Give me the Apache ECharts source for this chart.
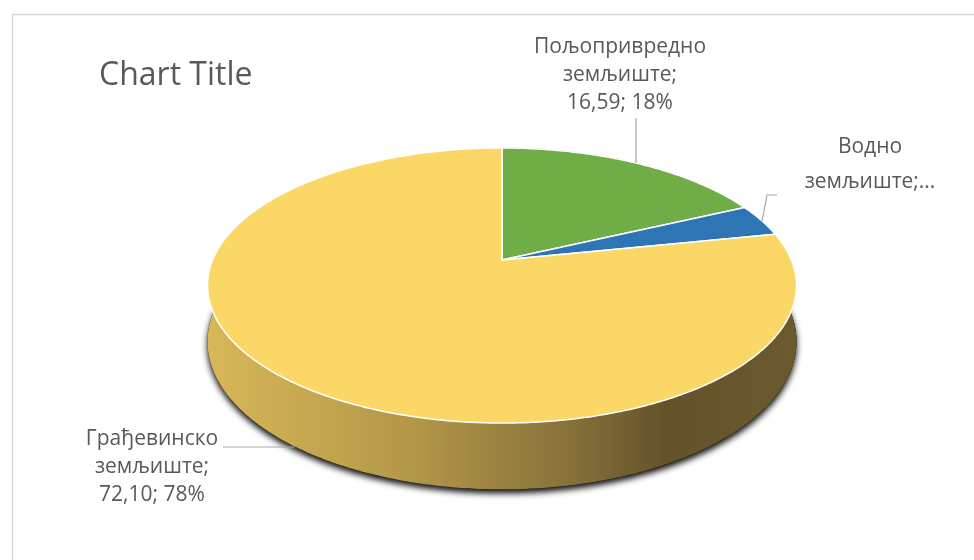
<!DOCTYPE html>
<html lang="sr">
<head>
  <meta charset="UTF-8">
  <title>Chart Title</title>
  <style>
    html, body { margin: 0; padding: 0; background: #fff; }
    #chart { width: 974px; height: 560px; }
  </style>
</head>
<body>
  <div id="chart"></div>
  <script src="https://cdn.jsdelivr.net/npm/echarts@6/dist/echarts.min.js"></script>
  <script>
    // data
    const names = ['Пољопривредно земљиште', 'Водно земљиште', 'Грађевинско земљиште'];
    const values = [16.59, 3.5, 72.10];
    const colors = ['#70AD47', '#2E75B6', '#FAD766'];
    const sideColors = ['#4E7A32', '#20527F', '#A38A44'];

    const total = values.reduce((a, b) => a + b, 0);
    const fmtVal = v => v.toFixed(2).replace('.', ',');
    const pct = v => Math.round(v / total * 100) + '%';

    // 3d pie projection (perspective tilt)
    const CX = 502, CY = 260, A = 132.8, B = 289.4, K = 0.1855, H = 54;
    function proj(theta, z) {
      const u = Math.sin(theta), v = -Math.cos(theta);
      const d = 1 - K * v;
      return [CX + B * u / d, CY + (A * v + H * z) / d];
    }
    function arc(a0, a1, z) {
      const pts = [];
      const n = Math.max(2, Math.ceil((a1 - a0) / 0.01));
      for (let i = 0; i <= n; i++) pts.push(proj(a0 + (a1 - a0) * i / n, z));
      return pts;
    }
    function angles(idx) {
      let s = 0;
      for (let i = 0; i < idx; i++) s += values[i];
      return [s / total * Math.PI * 2, (s + values[idx]) / total * Math.PI * 2];
    }

    const sideGrad = new echarts.graphic.LinearGradient(208, 0, 797, 0, [
      { offset: 0, color: '#D8B758' },
      { offset: 0.35, color: '#B39748' },
      { offset: 0.62, color: '#85703A' },
      { offset: 0.78, color: '#63522A' },
      { offset: 1, color: '#6C5A2F' }
    ], true);

    const labelStyle = { fontFamily: 'Open Sans', fontSize: 21, lineHeight: 28, fill: '#595959', align: 'center', verticalAlign: 'top' };
    function label(text, x, y, lh) {
      return { type: 'text', z: 20, style: Object.assign({}, labelStyle, { text: text, x: x, y: y }, lh ? { lineHeight: lh } : {}) };
    }
    function leader(points) {
      return { type: 'polyline', z: 20, shape: { points: points }, style: { stroke: '#A6A6A6', lineWidth: 1.2 } };
    }

    const chart = echarts.init(document.getElementById('chart'));
    chart.setOption({
      animation: false,
      title: {
        text: 'Chart Title',
        left: 94,
        top: 55,
        textStyle: { fontFamily: 'Open Sans', fontSize: 32, fontWeight: 'normal', color: '#595959' }
      },
      graphic: [
        {
          type: 'rect', z: -10, silent: true,
          shape: { x: 12.5, y: 14.5, width: 980, height: 560 },
          style: { fill: '#fff', stroke: '#D9D9D9', lineWidth: 1.5 }
        },
        label(names[0].split(' ')[0] + '\n' + names[0].split(' ')[1] + ';\n' + fmtVal(values[0]) + '; ' + pct(values[0]), 620, 33),
        leader([[636, 118], [636, 163]]),
        label(names[1].split(' ')[0] + '\n' + names[1].split(' ')[1] + ';...', 870, 130, 35),
        leader([[762, 221], [767, 195], [777, 195]]),
        label(names[2].split(' ')[0] + '\n' + names[2].split(' ')[1] + ';\n' + fmtVal(values[2]) + '; ' + pct(values[2]), 152, 425),
        leader([[223, 447], [295, 447]])
      ],
      series: [
        {
          // shadow + side walls
          type: 'custom',
          coordinateSystem: 'none',
          z: 1,
          silent: true,
          data: values,
          renderItem: function (params, api) {
            const i = params.dataIndex;
            const [a0, a1] = angles(i);
            const children = [];
            if (i === 0) {
              const sil = arc(0, Math.PI * 2, 1);
              children.push({
                type: 'polygon',
                shape: { points: sil },
                style: { fill: '#000', shadowBlur: 6, shadowColor: 'rgba(0,0,0,0.95)', shadowOffsetY: 4 }
              });
            }
            const top = arc(a0, a1, 0);
            const bot = arc(a0, a1, 1).reverse();
            children.push({
              type: 'polygon',
              shape: { points: top.concat(bot) },
              style: { fill: i === 2 ? sideGrad : sideColors[i], stroke: i === 2 ? null : sideColors[i], lineWidth: 0.5 }
            });
            return { type: 'group', children: children };
          }
        },
        {
          // top faces
          type: 'custom',
          coordinateSystem: 'none',
          z: 2,
          data: values,
          renderItem: function (params, api) {
            const i = params.dataIndex;
            const [a0, a1] = angles(i);
            const pts = [[CX, CY]].concat(arc(a0, a1, 0));
            return {
              type: 'polygon',
              shape: { points: pts },
              style: { fill: colors[i], stroke: '#fff', lineWidth: 1.5, lineJoin: 'round' }
            };
          }
        }
      ]
    });
  </script>
</body>
</html>
